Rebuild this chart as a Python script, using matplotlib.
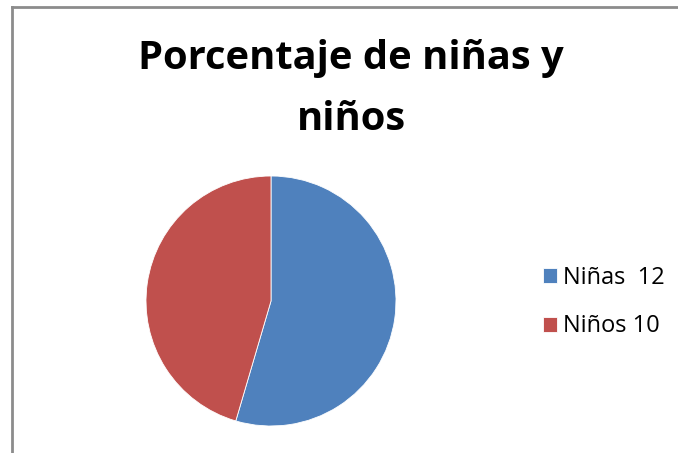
import matplotlib
import matplotlib.pyplot as plt
from matplotlib.lines import Line2D

matplotlib.use("Agg")

labels = ["Niñas  12", "Niños 10"]
values = [12, 10]
colors = ["#4F81BD", "#C0504D"]
title_lines = ["Porcentaje de niñas y", "niños"]

W, H = 678, 453
fig = plt.figure(figsize=(W / 100, H / 100), dpi=100)
fig.patch.set_facecolor("white")

# chart border (left and top only visible)
border = dict(color="#8c8c8c", linewidth=2.0)
fig.add_artist(Line2D([11.5 / W, 11.5 / W], [0, 1 - 6.5 / H], transform=fig.transFigure, **border))
fig.add_artist(Line2D([11.5 / W, 1], [1 - 6.5 / H, 1 - 6.5 / H], transform=fig.transFigure, **border))

# pie
cx, cy, r = 271, 301, 125
ax = fig.add_axes([(cx - r) / W, (H - cy - r) / H, 2 * r / W, 2 * r / H])
wedges, _ = ax.pie(values, colors=colors, startangle=90, counterclock=False,
                   wedgeprops=dict(edgecolor="white", linewidth=0.6))
ax.set_xlim(-1, 1)
ax.set_ylim(-1, 1)
ax.set_aspect("auto")
ax.axis("off")

# title, one text per line so the baselines sit where they should
for line, base in zip(title_lines, [69, 130]):
    fig.text(351 / W, 1 - base / H, line, ha="center", va="baseline", fontsize=28.7,
             fontweight="bold", family="Open Sans")

fig.legend(wedges, labels, loc="center left", bbox_to_anchor=(522 / W, 1 - 302 / H),
           frameon=False, prop=dict(family="Open Sans", size=17),
           handlelength=0.6, handleheight=0.6, handletextpad=0.25, labelspacing=1.05)

fig.savefig("out.png", dpi=100)
